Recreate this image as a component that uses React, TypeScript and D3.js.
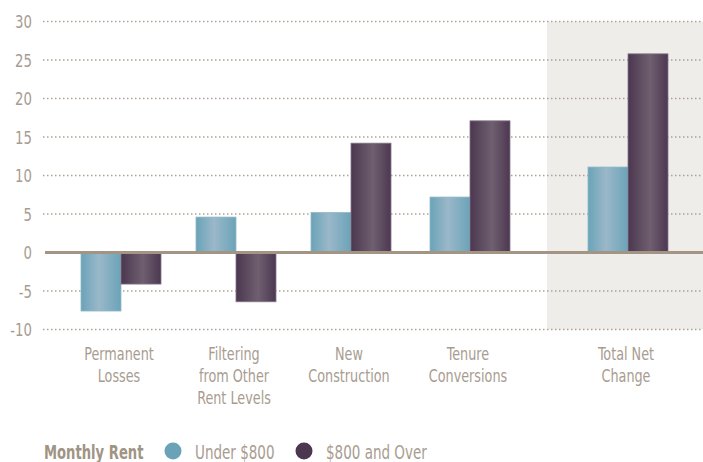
import React from "react";
import * as d3 from "d3";

const categories = ["Permanent Losses", "Filtering from Other Rent Levels", "New Construction", "Tenure Conversions", "Total Net Change"];
const categoryLines = [["Permanent", "Losses"], ["Filtering", "from Other", "Rent Levels"], ["New", "Construction"], ["Tenure", "Conversions"], ["Total Net", "Change"]];
const seriesNames = ["Under $800", "$800 and Over"];
const under800 = [-7.6, 4.6, 5.2, 7.2, 11.1];
const over800 = [-4.1, -6.4, 14.2, 17.1, 25.8];
const yTicks = [-10, -5, 0, 5, 10, 15, 20, 25, 30];
const legendTitle = "Monthly Rent";

const W = 703;
const H = 462;
const FONT = "'DejaVu Sans Condensed', 'Liberation Sans Narrow', 'DejaVu Sans', sans-serif";
const TXT = "#a89c90";

function T(props: { x: number; y: number; anchor?: string; size: number; sx?: number; weight?: string; fill?: string; children: React.ReactNode }) {
  return (
    <text
      transform={`translate(${props.x},${props.y}) scale(${props.sx ?? 0.8},1)`}
      textAnchor={props.anchor || "start"}
      fontFamily={FONT}
      fontSize={props.size}
      fontWeight={props.weight || "normal"}
      fill={props.fill || TXT}
    >
      {props.children}
    </text>
  );
}

export default function App() {
  const y = d3.scaleLinear().domain([-10, 30]).range([329.5, 21.5]);
  const x = d3.scaleOrdinal<string, number>().domain(categories).range([121, 236, 351, 470, 628]);
  const inner = d3.scaleBand().domain(seriesNames).range([-40, 40]).padding(0);
  const series = [under800, over800];
  const grads = ["gBlue", "gPurple"];
  const strokes = ["#8fb8c8", "#85768a"];

  return (
    <svg width={W} height={H} style={{ position: "absolute", left: 0, top: 0, background: "#fff" }}>
      <defs>
        <linearGradient id="gBlue" x1="0" x2="1" y1="0" y2="0">
          <stop offset="0" stopColor="#6aa3b8" />
          <stop offset="0.45" stopColor="#9ab8c9" />
          <stop offset="1" stopColor="#6ba3b8" />
        </linearGradient>
        <linearGradient id="gPurple" x1="0" x2="1" y1="0" y2="0">
          <stop offset="0" stopColor="#4b3750" />
          <stop offset="0.55" stopColor="#6f5f6f" />
          <stop offset="1" stopColor="#4c3852" />
        </linearGradient>
      </defs>
      <rect x={547} y={y(30)} width={W - 547} height={y(-10) - y(30)} fill="#efede9" />
      {yTicks.filter((t) => t !== 0).map((t) => (
        <line key={t} x1={43} x2={W} y1={y(t)} y2={y(t)} stroke="#ada194" strokeWidth={1.4} strokeDasharray="1.5,2.5" />
      ))}
      {yTicks.map((t) => (
        <T key={t} x={32} y={y(t) + 6.5} anchor="end" size={18} sx={0.82}>
          {t}
        </T>
      ))}
      {categories.map((c, i) =>
        series.map((s, k) => {
          const v = s[i];
          const x0 = x(c) + (inner(seriesNames[k]) as number);
          return (
            <rect
              key={c + k}
              x={x0}
              y={y(Math.max(0, v))}
              width={inner.bandwidth()}
              height={Math.abs(y(v) - y(0))}
              fill={`url(#${grads[k]})`}
              stroke={strokes[k]}
              strokeWidth={0.8}
            />
          );
        })
      )}
      <line x1={45} x2={W} y1={y(0)} y2={y(0)} stroke="#a39484" strokeWidth={3} />
      {categories.map((c, i) =>
        categoryLines[i].map((l, j) => (
          <T key={c + j} x={x(c) - 2} y={360 + j * 22} anchor="middle" size={18} sx={0.79}>
            {l}
          </T>
        ))
      )}
      <T x={44} y={459} size={19.5} sx={0.75} weight="bold" fill="#a09484">
        {legendTitle}
      </T>
      {seriesNames.map((n, k) => {
        const cx = [173, 304][k];
        return (
          <g key={n}>
            <circle cx={cx} cy={451} r={8.5} fill={["#6aa3b8", "#4b3750"][k]} />
            <T x={cx + 22} y={459} size={19.5} sx={0.77}>
              {n}
            </T>
          </g>
        );
      })}
    </svg>
  );
}
